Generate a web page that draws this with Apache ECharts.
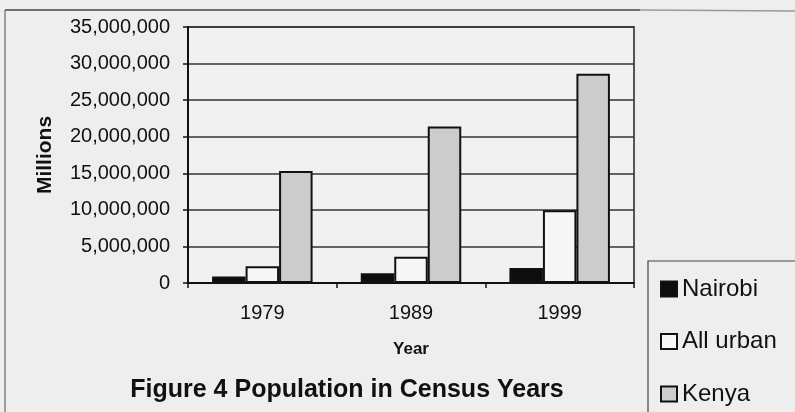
<!DOCTYPE html>
<html>
<head>
<meta charset="utf-8">
<script src="https://cdn.jsdelivr.net/npm/echarts@6/dist/echarts.min.js"></script>
<style>
  html, body { margin: 0; padding: 0; background: #eeeeee; }
  #chart { width: 795px; height: 412px; }
</style>
</head>
<body>
<div id="chart"></div>
<script>
// Census years on the category axis
const years = ['1979', '1989', '1999'];

// Population counts per census
const nairobi = [900000, 1350000, 2050000];
const allUrban = [2300000, 3600000, 9950000];
const kenya = [15300000, 21400000, 28600000];

// Value axis range and step
const yMin = 0;
const yMax = 35000000;
const yStep = 5000000;

const seriesNames = ['Nairobi', 'All urban', 'Kenya'];

const FONT = '"Liberation Sans", Arial, sans-serif';
const INK = '#111111';

const chart = echarts.init(document.getElementById('chart'), null, { renderer: 'canvas' });

function barSeries(name, data, fill) {
  return {
    name: name,
    type: 'bar',
    data: data,
    barGap: '0%',
    barCategoryGap: '32.4%',
    itemStyle: { color: fill, borderColor: '#111111', borderWidth: 2 },
    emphasis: { disabled: true }
  };
}

chart.setOption({
  backgroundColor: '#eeeeee',
  animation: false,
  title: {
    text: 'Figure 4 Population in Census Years',
    left: 347,
    top: 378,
    padding: 0,
    textAlign: 'center',
    textStyle: { fontFamily: FONT, fontSize: 25, fontWeight: 'bold', color: INK }
  },
  legend: {
    orient: 'vertical',
    left: 660,
    top: 277,
    padding: 0,
    icon: 'rect',
    itemWidth: 16,
    itemHeight: 15,
    itemGap: 28.5,
    selectedMode: false,
    data: seriesNames,
    textStyle: { fontFamily: FONT, fontSize: 24, lineHeight: 24, color: INK }
  },
  grid: {
    left: 188,
    right: 161,
    top: 27,
    bottom: 129,
    show: true,
    backgroundColor: '#f1f1f1',
    borderColor: '#222222',
    borderWidth: 1.5
  },
  xAxis: {
    type: 'category',
    data: years,
    name: 'Year',
    nameLocation: 'middle',
    nameGap: 58,
    nameTextStyle: { fontFamily: FONT, fontSize: 17, fontWeight: 'bold', color: INK },
    axisLine: { lineStyle: { color: '#111111', width: 2 } },
    axisTick: { show: true, length: 5, lineStyle: { color: '#111111', width: 1.5 } },
    axisLabel: { margin: 20, fontFamily: FONT, fontSize: 20, color: INK }
  },
  yAxis: {
    type: 'value',
    min: yMin,
    max: yMax,
    interval: yStep,
    name: 'Millions',
    nameLocation: 'middle',
    nameGap: 132,
    nameRotate: 90,
    nameTextStyle: { fontFamily: FONT, fontSize: 21, fontWeight: 'bold', color: INK },
    axisLine: { show: true, lineStyle: { color: '#111111', width: 2 } },
    axisTick: { show: true, length: 5, lineStyle: { color: '#111111', width: 1.5 } },
    axisLabel: {
      margin: 18,
      fontFamily: FONT,
      fontSize: 20,
      color: INK,
      formatter: v => v.toLocaleString('en-US')
    },
    splitLine: { show: true, lineStyle: { color: '#333333', width: 1.5 } }
  },
  series: [
    barSeries(seriesNames[0], nairobi, '#0d0d0d'),
    barSeries(seriesNames[1], allUrban, '#f7f7f7'),
    barSeries(seriesNames[2], kenya, '#cccccc')
  ],
  graphic: [
    // page frame around the figure
    { type: 'line', shape: { x1: 5, y1: 10, x2: 640, y2: 10 }, style: { stroke: '#444444', lineWidth: 1.5 }, z: 5 },
    { type: 'line', shape: { x1: 640, y1: 10, x2: 795, y2: 11 }, style: { stroke: '#9a9a9a', lineWidth: 1.5 }, z: 5 },
    { type: 'line', shape: { x1: 5, y1: 10, x2: 5, y2: 412 }, style: { stroke: '#666666', lineWidth: 1.2 }, z: 5 },
    // legend frame
    { type: 'rect', shape: { x: 648, y: 261, width: 160, height: 170 }, style: { fill: 'none', stroke: '#444444', lineWidth: 1.2 }, z: 5 }
  ]
});
</script>
</body>
</html>
